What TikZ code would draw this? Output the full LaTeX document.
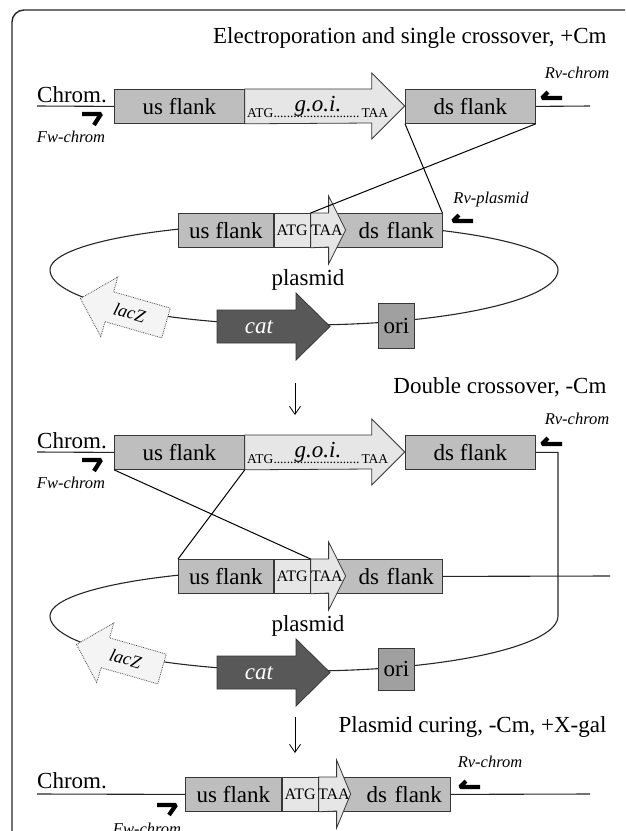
\documentclass[tikz,border=0pt]{standalone}
\usepackage{fontspec}
\setmainfont{Liberation Serif}
\usepackage{tikz}
\usetikzlibrary{arrows.meta,positioning}
\definecolor{flankgray}{RGB}{190,190,190}
\definecolor{goigray}{RGB}{230,230,230}
\definecolor{origray}{RGB}{160,160,160}
\definecolor{catgray}{RGB}{88,88,88}
\definecolor{lacgray}{RGB}{244,244,244}
\definecolor{edgegray}{RGB}{55,55,55}
\newcommand{\goidots}{\leaders\hbox to 3.3pt{\hss.\hss}\hfill}

\begin{document}
\begin{tikzpicture}[x=1pt, y=-1pt,
        bigtext/.style={font=\fontsize{23}{23}\selectfont},
        bigitalic/.style={font=\fontsize{23}{23}\selectfont\itshape},
        smalltext/.style={font=\fontsize{16}{16}\selectfont},
        orftext/.style={font=\fontsize{13.5}{13.5}\selectfont},
        primertext/.style={font=\fontsize{16.5}{16.5}\selectfont\itshape},
        box/.style={draw=edgegray, fill=flankgray, line width=0.8pt, minimum height=34pt, inner sep=0pt, bigtext},
        atgbox/.style={box, fill=goigray, smalltext},
        dsbox/.style={box, align=right, inner xsep=8pt},
        orfarrow/.style={draw=edgegray, fill=goigray, line width=0.8pt},
        catarrow/.style={draw=edgegray, fill=catgray, line width=0.8pt},
        lacarrow/.style={draw=black!70, fill=lacgray, densely dotted, line width=0.8pt},
        dna/.style={line width=1.1pt, draw=black!85},
        cross/.style={line width=1pt},
        primer/.style={line width=4.2pt, line join=bevel},
        steparrow/.style={-{Straight Barb[length=8pt,width=11pt]}, line width=0.8pt}
    ]
        \useasboundingbox (0,0) rectangle (625,831);
        \clip (0,0) rectangle (625,831);
        \draw[line width=1.4pt, draw=black!85, rounded corners=12pt] (12,10) rectangle (700,900);

        % Electroporation and single crossover
        \node[bigtext, anchor=base east] (title1) at (610,43) {Electroporation and single crossover, +Cm};
        \node[box, minimum width=130pt, anchor=north west] (us1) at (114,89) {us flank};
        \draw[orfarrow] (us1.north east) -- ++(127,0) -- ++(0,-16) -- ++(33,33) -- ++(-33,33) -- ++(0,-16) -- (us1.south east) -- cycle;
        \node[orftext, anchor=base west, inner sep=0pt] (orf1) at (247,117) {\makebox[141pt]{ATG\goidots TAA}};
        \node[bigitalic, anchor=base] (goi1) at (318,111) {g.o.i.};
        \node[box, minimum width=130pt, anchor=north west] (ds1) at (405,89) {ds flank};
        \coordinate (chl1) at (37,106);
        \coordinate (chr1) at (590,106);
        \draw[dna] (chl1) -- (us1.west);
        \draw[dna] (ds1.east) -- (chr1);
        \node[bigtext, anchor=base west, inner sep=0pt] (chrom1) at (37,102) {Chrom.};
        \draw[primer] (82,114) -- (101,114) -- (94,125);
        \node[primertext] (fw1) at (71,137) {Fw-chrom};
        \draw[primer] (562,98) -- (542,98) -- (548,92);
        \node[primertext] (rv1) at (577,73) {Rv-chrom};

        % plasmid 1
        \draw[dna] (50,270) arc[start angle=180, end angle=360, x radius=254, y radius=47]
            arc[start angle=0, end angle=180, x radius=254, y radius=55];
        \node[box, minimum width=95pt, anchor=north west] (pus1) at (178,213) {us flank};
        \node[atgbox, minimum width=36pt, right=0pt of pus1] (patg1) {ATG};
        \node[dsbox, text width=115pt, right=0pt of patg1] (pds1) {ds flank};
        \draw[orfarrow] (patg1.north east) -- ++(18,0) -- ++(0,-17) -- ++(17,34) -- ++(-17,34) -- ++(0,-17) -- (patg1.south east) -- cycle;
        \node[smalltext] (taa1) at (327,230) {TAA};
        \node[primertext] (rvp1) at (491,200) {Rv-plasmid};
        \draw[primer] (473,221) -- (453,221) -- (459,215);
        \node[bigtext] (plasmid1) at (308,280) {plasmid};
        \draw[catarrow] (217,310) -- (296,310) -- (296,293) -- (330,326.5) -- (296,360) -- (296,343) -- (217,343) -- cycle;
        \node[bigitalic, text=white] (cat1) at (259,327) {cat};
        \node[box, fill=origray, minimum width=36pt, minimum height=45pt, anchor=north west] (ori1) at (378,303) {ori};
        \begin{scope}[shift={(166,323)}, rotate=-16]
            \draw[lacarrow] (0,-15.5) -- (-59,-15.5) -- (-59,-31) -- (-89,0) -- (-59,31) -- (-59,15.5) -- (0,15.5) -- cycle;
            \node[primertext, font=\fontsize{18}{18}\selectfont\itshape, rotate=-16] (lacz1) at (-38,0) {lacZ};
        \end{scope}
        \draw[cross] (ds1.south west) -- (pds1.north east);
        \draw[cross] (ds1.south east) -- (patg1.north east);

        \coordinate (step1a) at (295,383);
        \coordinate (step1b) at (295,415);
        \draw[steparrow] (step1a) -- (step1b);

        % Double crossover
        \node[bigtext, anchor=base east] (title2) at (610,393) {Double crossover, -Cm};
        \node[box, minimum width=130pt, anchor=north west] (us2) at (114,435) {us flank};
        \draw[orfarrow] (us2.north east) -- ++(127,0) -- ++(0,-16) -- ++(33,33) -- ++(-33,33) -- ++(0,-16) -- (us2.south east) -- cycle;
        \node[orftext, anchor=base west, inner sep=0pt] (orf2) at (247,463) {\makebox[141pt]{ATG\goidots TAA}};
        \node[bigitalic, anchor=base] (goi2) at (318,457) {g.o.i.};
        \node[box, minimum width=130pt, anchor=north west] (ds2) at (405,435) {ds flank};
        \coordinate (chl2) at (37,452);
        \draw[dna] (chl2) -- (us2.west);
        \node[bigtext, anchor=base west, inner sep=0pt] (chrom2) at (37,448) {Chrom.};
        \draw[primer] (82,460) -- (101,460) -- (94,471);
        \node[primertext] (fw2) at (71,483) {Fw-chrom};
        \draw[primer] (562,444) -- (542,444) -- (548,438);
        \node[primertext] (rv2) at (577,419) {Rv-chrom};

        % plasmid 2
        \draw[dna] (ds2.east) -| (558,616) arc[start angle=0, end angle=180, x radius=254, y radius=55]
            arc[start angle=180, end angle=240.3, x radius=254, y radius=47];
        \node[box, minimum width=95pt, anchor=north west] (pus2) at (178,559) {us flank};
        \node[atgbox, minimum width=36pt, right=0pt of pus2] (patg2) {ATG};
        \node[dsbox, text width=115pt, right=0pt of patg2] (pds2) {ds flank};
        \draw[orfarrow] (patg2.north east) -- ++(18,0) -- ++(0,-17) -- ++(17,34) -- ++(-17,34) -- ++(0,-17) -- (patg2.south east) -- cycle;
        \node[smalltext] (taa2) at (327,576) {TAA};
        \coordinate (chr2) at (610,576);
        \draw[dna] (pds2.east) -- (chr2);
        \node[bigtext] (plasmid2) at (308,626) {plasmid};
        \draw[catarrow] (217,656) -- (296,656) -- (296,639) -- (330,672.5) -- (296,706) -- (296,689) -- (217,689) -- cycle;
        \node[bigitalic, text=white] (cat2) at (259,673) {cat};
        \node[box, fill=origray, minimum width=36pt, minimum height=42pt, anchor=north west] (ori2) at (378,648) {ori};
        \begin{scope}[shift={(162,669)}, rotate=-16]
            \draw[lacarrow] (0,-15.5) -- (-59,-15.5) -- (-59,-31) -- (-89,0) -- (-59,31) -- (-59,15.5) -- (0,15.5) -- cycle;
            \node[primertext, font=\fontsize{18}{18}\selectfont\itshape, rotate=-16] (lacz2) at (-38,0) {lacZ};
        \end{scope}
        \draw[cross] (us2.south west) -- (patg2.north east);
        \draw[cross] (us2.south east) -- (pus2.north west);

        \coordinate (step2a) at (295,717);
        \coordinate (step2b) at (295,753);
        \draw[steparrow] (step2a) -- (step2b);

        % Plasmid curing
        \node[bigtext, anchor=base east] (title3) at (610,732) {Plasmid curing, -Cm, +X-gal};
        \node[box, minimum width=96pt, anchor=north west] (us3) at (185,777) {us flank};
        \node[atgbox, minimum width=36pt, right=0pt of us3] (atg3) {ATG};
        \node[dsbox, text width=115pt, right=0pt of atg3] (ds3) {ds flank};
        \draw[orfarrow] (atg3.north east) -- ++(18,0) -- ++(0,-17) -- ++(14,34) -- ++(-14,34) -- ++(0,-17) -- (atg3.south east) -- cycle;
        \node[smalltext] (taa3) at (334,794) {TAA};
        \coordinate (chl3) at (37,794);
        \coordinate (chr3) at (590,794);
        \draw[dna] (chl3) -- (us3.west);
        \draw[dna] (ds3.east) -- (chr3);
        \node[bigtext, anchor=base west, inner sep=0pt] (chrom3) at (37,788) {Chrom.};
        \draw[primer] (157,805) -- (176,805) -- (169,815);
        \node[primertext] (fw3) at (147,829) {Fw-chrom};
        \draw[primer] (480,787) -- (460,787) -- (466,781);
        \node[primertext] (rv3) at (490,762) {Rv-chrom};

    \end{tikzpicture}
\end{document}
